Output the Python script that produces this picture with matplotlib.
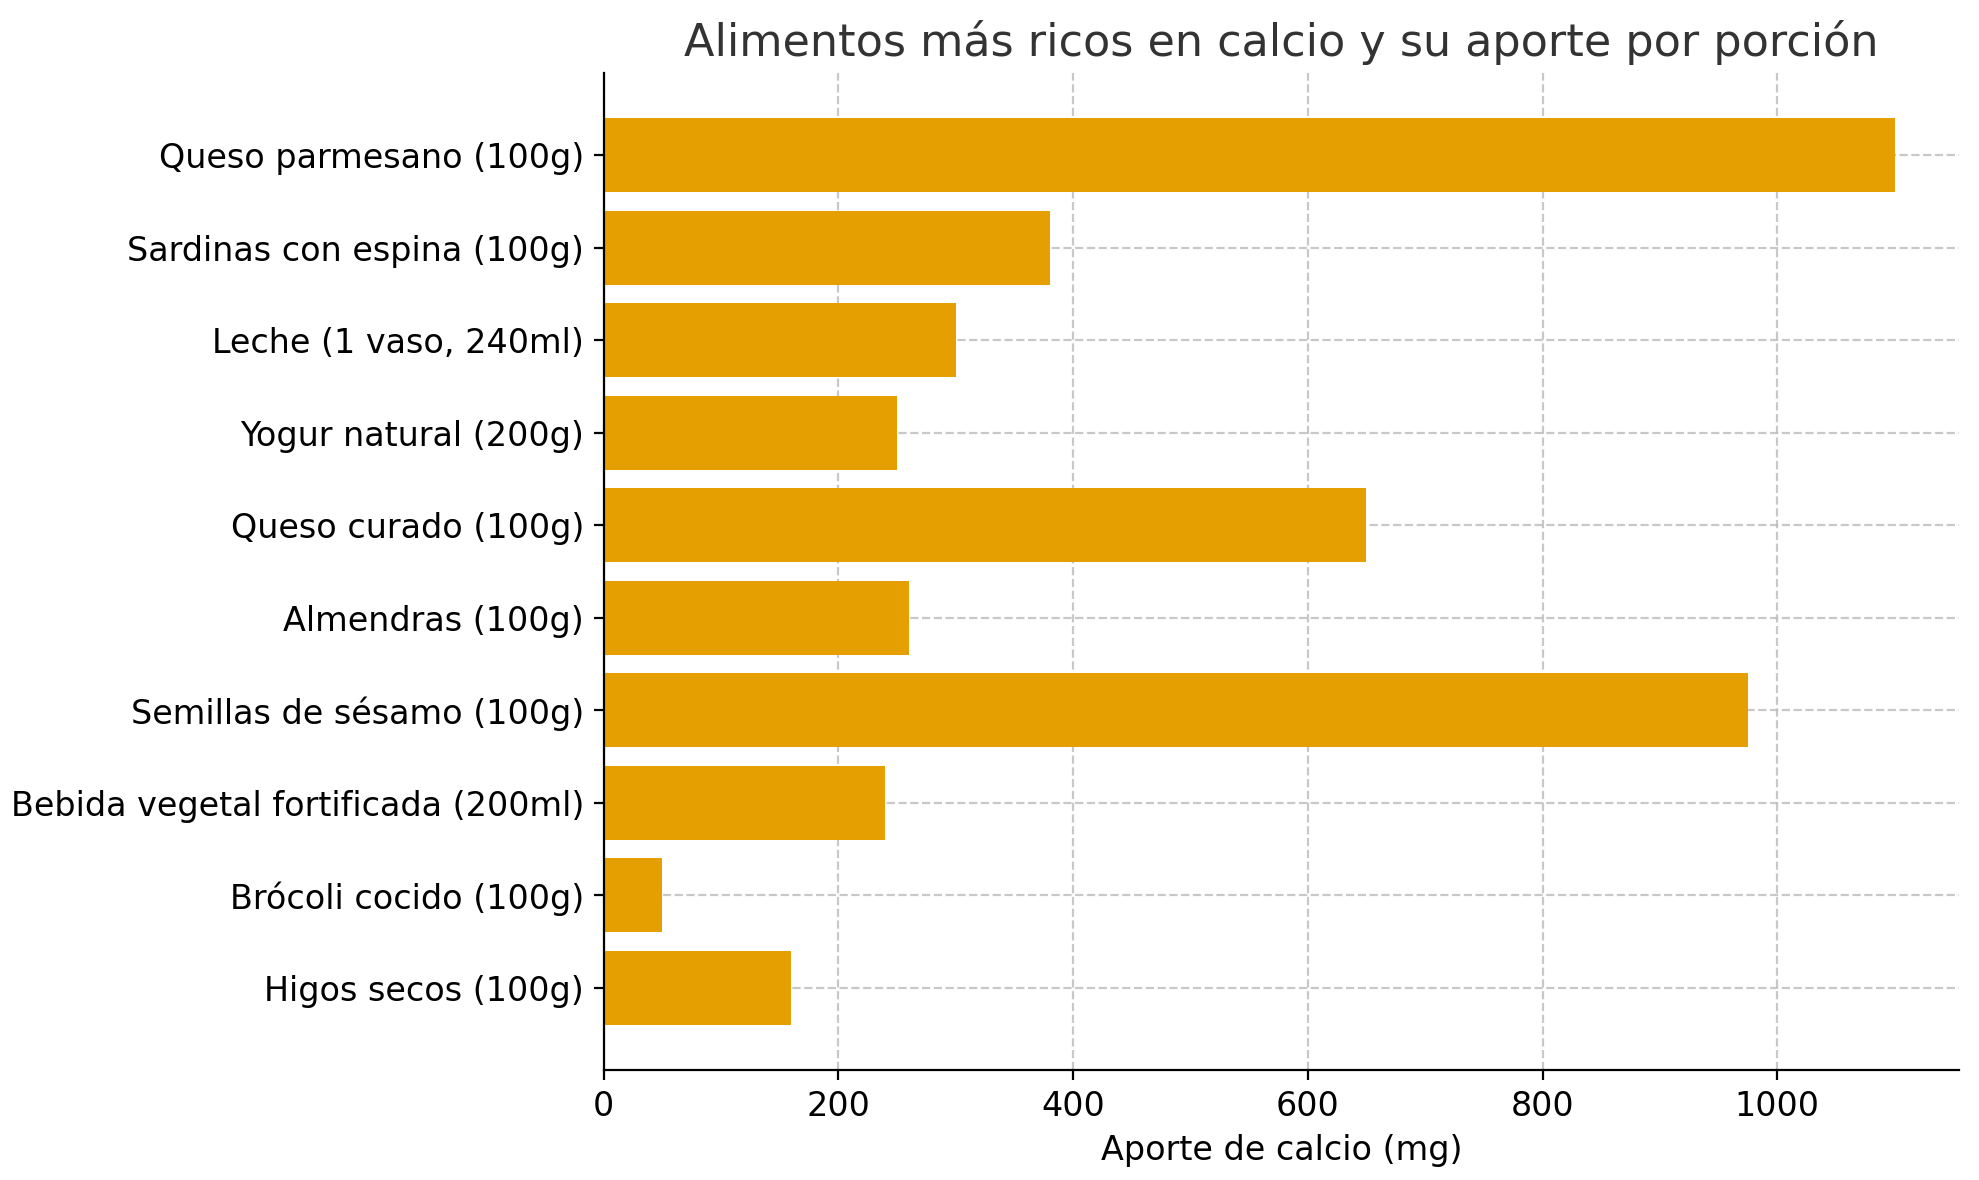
import matplotlib
matplotlib.use("Agg")
import matplotlib.pyplot as plt

foods = [
    "Queso parmesano (100g)",
    "Sardinas con espina (100g)",
    "Leche (1 vaso, 240ml)",
    "Yogur natural (200g)",
    "Queso curado (100g)",
    "Almendras (100g)",
    "Semillas de sésamo (100g)",
    "Bebida vegetal fortificada (200ml)",
    "Brócoli cocido (100g)",
    "Higos secos (100g)",
]
calcium_mg = [1100, 380, 300, 250, 650, 260, 975, 240, 50, 160]

fig, ax = plt.subplots(figsize=(9.895, 5.9), dpi=200)
fig.subplots_adjust(left=0.305, right=0.99, top=0.938, bottom=0.093)

ax.barh(foods, calcium_mg, color="#E69F00", zorder=2)
ax.invert_yaxis()
ax.set_xlim(0, 1155)
ax.set_title("Alimentos más ricos en calcio y su aporte por porción",
             fontsize=16, color="#333333")
ax.set_xlabel("Aporte de calcio (mg)", fontsize=12)
ax.tick_params(labelsize=12)
ax.grid(True, linestyle="--", color="#bbbbbb", alpha=0.8, zorder=0)
ax.spines["top"].set_visible(False)
ax.spines["right"].set_visible(False)

fig.savefig("out.png", dpi=200)
